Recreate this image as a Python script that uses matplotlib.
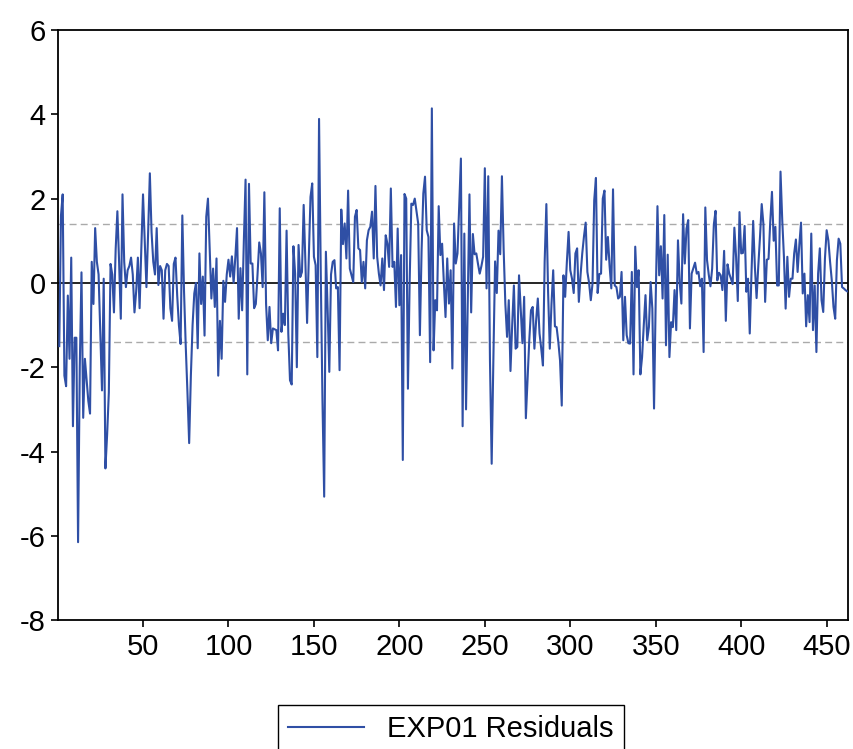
import matplotlib.pyplot as plt
import numpy as np

plt.rcParams['font.family'] = ['Liberation Sans', 'DejaVu Sans']
plt.rcParams['axes.unicode_minus'] = False

residuals = [
    -1.5, 1.6, 2.1, -2.2, -2.45, -0.3, -1.8, 0.6, -3.4, -1.3,
    -1.3, -6.15, -2.0, 0.25, -3.2, -1.8, -2.3, -2.8, -3.1, 0.5,
    -0.5, 1.3, 0.5, 0.2, -1.2, -2.55, 0.1, -4.4, -3.6, -2.6,
    0.45, 0.2, -0.7, 0.8, 1.7, 0.5, -0.85, 2.1, 0.5, -0.1,
    0.3, 0.4, 0.6, 0.2, -0.7,
    -0.2, 0.6, -0.6, 0.8, 2.1, 1.0, -0.1, 1.2, 2.6, 1.2,
    0.5, 0.2, 1.3, -0.05, 0.4, 0.3, -0.85, 0.3, 0.45, 0.4,
    -0.6, -0.9, 0.45, 0.6, -0.3, -1.0, -1.45, 1.6, -0.2, -1.5,
    -2.6, -3.8, -2.2, -1.0, -0.25, 0.0, -1.55, 0.7, -0.5, 0.15,
    -1.25, 1.57, 2.0, 0.8, -0.37, 0.34, -0.57,
    0.58, -2.2, -0.9, -1.8, 0.05, -0.45, 0.2, 0.55, 0.15, 0.63,
    0.0, 0.6, 1.3, -0.85, 0.35, -0.65, 1.0, 2.45, -2.17, 2.35,
    0.46, 0.46, -0.6, -0.5, 0.2, 0.96, 0.7, -0.1, 2.15, -0.5,
    -1.36, -0.57, -1.43, -1.08, -1.1, -1.12, -1.6, 1.77, -1.16, -0.73,
    -1.0, 1.24, -1.2, -2.31, -2.41, 0.87, 0.22,
    -2.0, 0.9, 0.14, 0.26, 1.85, 0.5, -0.95, 0.6, 2.04, 2.36,
    0.62, 0.42, -1.76, 3.89, 0.22, -2.79, -5.07, 0.74, -0.6, -2.11,
    0.2, 0.5, 0.54, -0.13, -0.1, -2.07, 1.74, 0.92, 1.41, 0.58,
    2.19, 0.34, 0.18, 0.02, 1.57, 1.73, 0.82, 0.78, 0.02, 0.5,
    -0.13, 1.01, 1.25, 1.33, 1.69, 0.58, 2.3,
    0.62, 0.22, -0.06, 0.58, -0.17, 1.13, 0.93, 0.38, 2.24, 0.38,
    0.5, -0.57, 1.29, -0.53, 0.66, -4.2, 2.11, 2.0, -2.51, 0.0,
    1.88, 1.85, 2.0, 1.7, 1.41, -1.24, 0.78, 2.12, 2.52, 1.25,
    1.09, -1.88, 4.14, -1.6, -0.41, -0.65, 1.82, 0.66, 0.93, 0.02,
    -0.81, 0.58, -0.49, 0.3, -2.03, 1.41,
    0.46, 0.7, 1.8, 2.95, -3.4, 1.17, -3.0, -0.5, 2.1, -0.7,
    1.16, 0.68, 0.7, 0.45, 0.22, 0.4, 0.62, 2.72, -0.13, 2.53,
    -1.84, -4.29, -1.8, 0.51, -0.24, 1.24, 0.68, 2.53, 0.8, -0.5,
    -1.28, -0.41, -2.09, -1.0, -0.06, -1.56, -1.52, 0.18, -0.6, -1.43,
    -0.33, -3.21, -2.3, -1.36, -0.65, -0.57, -1.56,
    -0.9, -0.37, -1.2, -1.56, -1.96, 0.5, 1.87, -0.2, -1.56, -0.5,
    0.3, -1.03, -1.05, -1.4, -1.84, -2.91, 0.18, -0.33, 0.5, 1.21,
    0.3, 0.1, -0.24, 0.7, 0.82, -0.45, 0.18, 0.7, 1.1, 1.43,
    0.26, 0.0, -0.41, -0.02, 1.96, 2.49, -0.24, 0.21, 0.22, 2.0,
    2.19, 0.55, 1.09, 0.4, -0.13, 2.22, -0.06,
    -0.1, -0.37, -0.33, 0.26, -1.36, -0.33, -1.24, -1.43, -1.44, 0.26,
    -2.17, 0.86, -0.1, 0.3, -2.17, -1.76, -1.0, -0.29, -1.36, -1.05,
    0.02, -0.61, -2.98, -0.33, 1.82, 0.18, 0.87, -0.37, 1.61, -1.48,
    0.67, -1.76, -0.93, -1.05, -0.17, -1.12, 1.01, 0.02, -0.49, 1.63,
    0.46, 1.29, 1.49, -1.08, 0.22, 0.35, 0.48,
    0.22, 0.26, -0.08, 0.1, -1.64, 1.79, 0.54, 0.2, -0.08, 0.34,
    1.39, 1.71, 0.06, 0.24, 0.18, -0.17, 0.76, -0.9, 0.44, 0.22,
    0.1, -0.03, 1.31, 0.62, -0.43, 1.68, 0.7, 0.71, 1.35, -0.21,
    0.1, -1.2, 0.2, 1.47, 0.38, -0.36, 0.4, 1.09, 1.87, 1.39,
    -0.45, 0.55, 0.57, 1.45, 2.16, 1.0, 1.33,
    -0.06, -0.06, 2.64, 1.5, 0.62, -0.61, 0.62, -0.33, 0.1, 0.1,
    0.7, 1.03, 0.26, 0.9, 1.43, -0.25, 0.22, -1.03, -0.29, -0.93,
    1.17, -1.12, -0.06, -1.64, 0.22, 0.82, -0.41, -0.69, 0.58, 1.25,
    1.01, 0.5, 0.06, -0.57, -0.85, 0.54, 1.05, 0.93, -0.1, -0.13,
    -0.17, -0.2,
]
band = 1.4  # dashed +/- lines
x_ticks = [50, 100, 150, 200, 250, 300, 350, 400, 450]
y_ticks = [-8, -6, -4, -2, 0, 2, 4, 6]

obs = np.arange(1, len(residuals) + 1)

fig = plt.figure(figsize=(8.54, 7.49), dpi=100)
ax = fig.add_axes([0.068, 0.172, 0.925, 0.788])

ax.axhline(0, color='black', lw=1.2, zorder=2)
ax.axhline(band, color='#aaaaaa', lw=1.0, ls=(0, (5, 3)), zorder=1)
ax.axhline(-band, color='#aaaaaa', lw=1.0, ls=(0, (5, 3)), zorder=1)
ax.plot(obs, residuals, color='#2f4fa5', lw=1.5, label='EXP01 Residuals', zorder=3)

ax.set_xlim(0.3, len(residuals) + 0.5)
ax.set_ylim(-8, 6)
ax.set_xticks(x_ticks)
ax.set_yticks(y_ticks)
ax.tick_params(labelsize=21, length=5, width=1.2, direction='out', pad=4)
for s in ax.spines.values():
    s.set_linewidth(1.3)

fig.legend(loc='upper center', bbox_to_anchor=(0.528, 0.059), fontsize=21,
           frameon=True, fancybox=False, edgecolor='black', framealpha=1,
           handlelength=2.6, borderpad=0.35, borderaxespad=0)

fig.savefig('out.png', dpi=100)
